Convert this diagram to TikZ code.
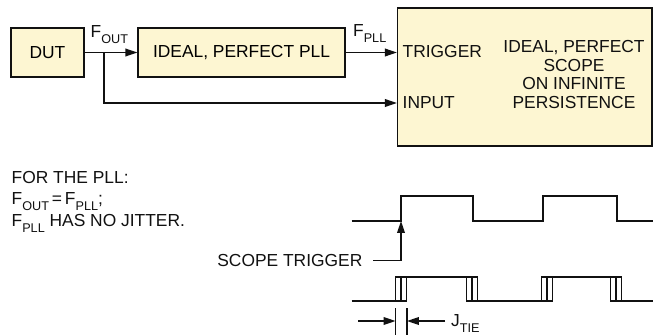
\documentclass[tikz,border=0pt]{standalone}
\usepackage{fontspec}
\setmainfont{Liberation Sans}
\usepackage{tikz}
\usetikzlibrary{arrows.meta, positioning, calc}
\definecolor{pllCream}{HTML}{FDF6D2}
\definecolor{pllInk}{HTML}{111111}
\newcommand{\subtxt}[1]{\raisebox{-3.5pt}{\fontsize{7.2}{8}\selectfont #1}}

\begin{document}
\begin{tikzpicture}[>={Triangle[length=6.8pt,width=4.4pt]}, font=\fontsize{9.9}{10.8}\selectfont, line width=0.75pt,
    blockbox/.style={draw=pllInk, fill=pllCream, minimum height=0.98cm, inner sep=0pt, align=center},
    lbl/.style={inner sep=0pt, align=left, text=pllInk},
    flow/.style={->, draw=pllInk},
    wave/.style={draw=pllInk, line width=0.65pt}]

  \useasboundingbox (0,0) rectangle (13.06,-6.70);

  \node[blockbox, minimum width=1.46cm]                        (dut)   at (0.95,-1.05)   {DUT};
  \node[blockbox, minimum width=4.14cm]                        (pll)   at (4.83,-1.05)   {IDEAL, PERFECT PLL};
  \node[blockbox, minimum width=5.09cm, minimum height=2.76cm] (scope) at (10.495,-1.54) {};

  \node[lbl, anchor=west]   (trg)      at (8.04,-1.04)  {TRIGGER};
  \node[lbl, anchor=west]   (inp)      at (8.04,-2.06)  {INPUT};
  \node[lbl, align=center]  (scopetxt) at (11.48,-1.49) {IDEAL, PERFECT\\SCOPE\\ON INFINITE\\PERSISTENCE};

  \node[lbl, anchor=base west] (fout) at (1.80,-0.75) {F\subtxt{OUT}};
  \node[lbl, anchor=base west] (fpll) at (7.05,-0.73) {F\subtxt{PLL}};

  \coordinate (split) at (2.08,-1.05);
  \draw[flow] (dut) -- (pll);
  \draw[flow] (pll) -- (pll.east -| scope.west);
  \draw[flow] (split) |- (inp.west -| scope.west);

  \node[lbl, anchor=north west, font=\fontsize{9.9}{12.2}\selectfont] (note) at (0.22,-3.41)
    {FOR THE PLL:\\F\subtxt{OUT}\,=\,F\subtxt{PLL};\\F\subtxt{PLL} HAS NO JITTER.};

  % trigger waveform
  \draw[wave] (7.03,-4.42) -- (8.02,-4.42) -- (8.02,-3.92) -- (9.46,-3.92) -- (9.46,-4.42)
    -- (10.86,-4.42) -- (10.86,-3.92) -- (12.34,-3.92) -- (12.34,-4.42) -- (13.06,-4.42);

  \node[lbl, anchor=east] (strig) at (7.26,-5.21) {SCOPE TRIGGER};
  \coordinate (rise) at (8.02,-4.42);
  \draw[flow] ([xshift=0.2cm]strig.east) -| (rise);

  % signal with jitter bands
  \foreach \e in {8.02,9.44,10.94,12.32} {
    \draw[wave] (\e-0.11,-6.02) rectangle (\e+0.11,-5.54);
    \draw[wave] (\e,-6.02) -- (\e,-5.54);
  }
  \draw[wave] (7.03,-6.02) -- (7.91,-6.02);
  \draw[wave] (8.13,-5.54) -- (9.33,-5.54);
  \draw[wave] (9.55,-6.02) -- (10.83,-6.02);
  \draw[wave] (11.05,-5.54) -- (12.21,-5.54);
  \draw[wave] (12.43,-6.02) -- (13.06,-6.02);

  % jitter span
  \draw[wave] (7.91,-6.16) -- (7.91,-6.70);
  \draw[wave] (8.14,-6.16) -- (8.14,-6.70);
  \coordinate (tjl) at (7.91,-6.42);
  \coordinate (tjr) at (8.14,-6.42);
  \coordinate (jfrom) at (7.16,-6.42);
  \node[lbl, anchor=base west] (jtie) at (9.01,-6.53) {J\subtxt{TIE}};
  \draw[flow] (jfrom) -- (tjl);
  \draw[flow] ([xshift=-0.11cm]jtie.west |- tjr) -- (tjr);

\end{tikzpicture}
\end{document}
